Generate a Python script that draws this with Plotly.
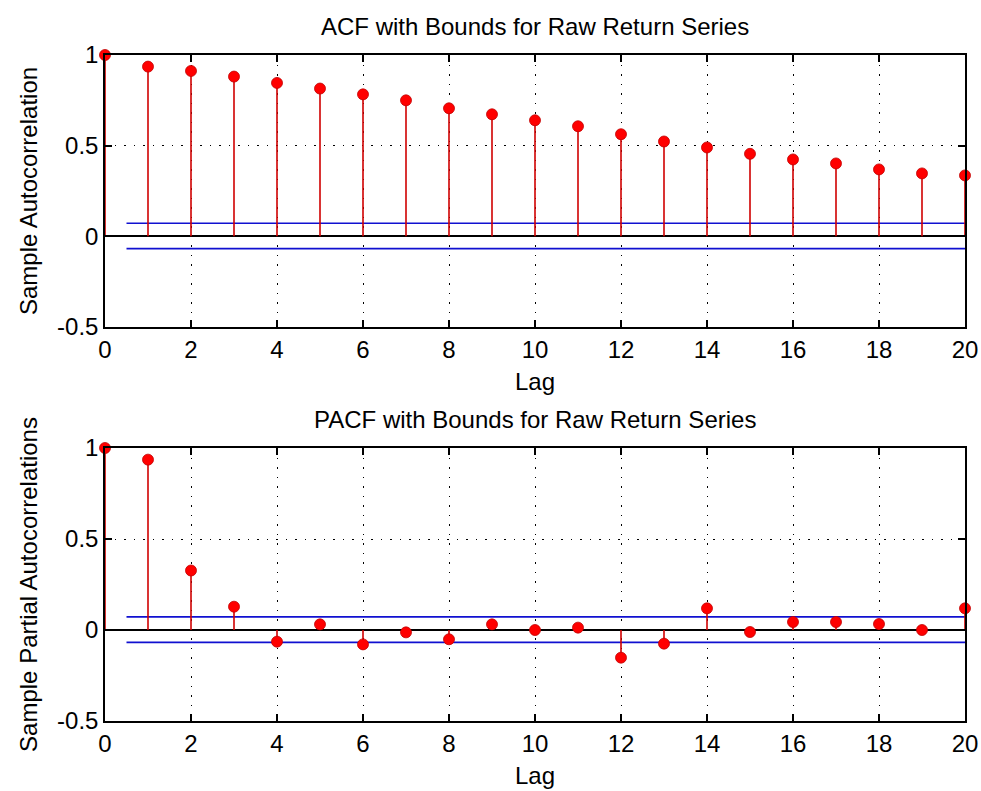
import plotly.graph_objects as go

lags = list(range(21))
acf_values = [1.0, 0.936, 0.912, 0.881, 0.846, 0.815, 0.783, 0.750, 0.706, 0.673, 0.640,
              0.607, 0.563, 0.523, 0.490, 0.455, 0.424, 0.402, 0.369, 0.347, 0.336]
pacf_values = [1.0, 0.936, 0.327, 0.128, -0.064, 0.031, -0.079, -0.013, -0.051, 0.031, 0.0,
               0.013, -0.152, -0.075, 0.119, -0.011, 0.044, 0.044, 0.033, 0.0, 0.119]
acf_bounds = [0.072, -0.068]
pacf_bounds = [0.072, -0.068]
bound_start = 0.5
x_ticks = list(range(0, 21, 2))
y_ticks = [-0.5, 0, 0.5, 1]
y_ticklabels = ["-0.5", "0", "0.5", "1"]
titles = ["ACF with Bounds for Raw Return Series", "PACF with Bounds for Raw Return Series"]
ylabels = ["Sample Autocorrelation", "Sample Partial Autocorrelations"]
xlabel = "Lag"

W, H = 981, 791
FONT = "Liberation Sans Narrow, Arial Narrow, Liberation Sans, sans-serif"
FS = 24
STEM = "#d00000"
MARK = "#ff0000"
BLUE = "#1010d0"

fig = go.Figure()

panels = [
    (acf_values, acf_bounds, "x", "y", (55, 327)),
    (pacf_values, pacf_bounds, "x2", "y2", (448, 721)),
]

for i, (vals, bnds, xa, ya, (top, bot)) in enumerate(panels):
    sx, sy = [], []
    for l, v in zip(lags, vals):
        sx += [l, l, None]
        sy += [0, v, None]
    for b in bnds:
        fig.add_trace(go.Scatter(x=[bound_start, lags[-1]], y=[b, b], mode="lines",
                                 line=dict(color=BLUE, width=1.6), xaxis=xa, yaxis=ya,
                                 showlegend=False, hoverinfo="skip"))
    fig.add_trace(go.Scatter(x=sx, y=sy, mode="lines", line=dict(color=STEM, width=1.6),
                             xaxis=xa, yaxis=ya, showlegend=False, hoverinfo="skip"))
    fig.add_trace(go.Scatter(x=lags, y=vals, mode="markers", cliponaxis=False,
                             marker=dict(color=MARK, size=11, line=dict(color="#c00000", width=0.8)),
                             xaxis=xa, yaxis=ya, showlegend=False))
    ydom = [(H - bot) / H, (H - top) / H]
    axcommon = dict(showline=True, linecolor="black", linewidth=1.5, mirror="ticks",
                    ticks="inside", ticklen=7, tickwidth=1.5, tickcolor="black",
                    showgrid=True, gridcolor="black", gridwidth=1, griddash="1.5px,8px",
                    tickfont=dict(family=FONT, size=FS, color="black"), layer="above traces",
                    automargin=False)
    xkey = "xaxis" if i == 0 else "xaxis2"
    ykey = "yaxis" if i == 0 else "yaxis2"
    fig.update_layout(**{
        xkey: dict(axcommon, domain=[105 / W, 965 / W], range=[0, 20], tickvals=x_ticks,
                   zeroline=False, anchor=ya,
                   title=dict(text=xlabel, font=dict(family=FONT, size=FS, color="black"), standoff=12)),
        ykey: dict(axcommon, domain=ydom, range=[-0.5, 1], tickvals=y_ticks, ticktext=y_ticklabels,
                   zeroline=True, zerolinecolor="black", zerolinewidth=1.5, anchor=xa,
                   title=dict(text=ylabels[i], font=dict(family=FONT, size=FS, color="black"), standoff=13)),
    })
    fig.add_annotation(text=titles[i], xref="paper", yref="paper", x=(105 + 965) / 2 / W,
                       y=(H - top + 13) / H, xanchor="center", yanchor="bottom", showarrow=False,
                       font=dict(family=FONT, size=FS, color="black"))

fig.update_layout(width=W, height=H, margin=dict(l=0, r=0, t=0, b=0, autoexpand=False),
                  paper_bgcolor="white", plot_bgcolor="white")

fig.write_html("out.html", config={"displayModeBar": False},
               post_script="document.body.style.margin='0px';")
